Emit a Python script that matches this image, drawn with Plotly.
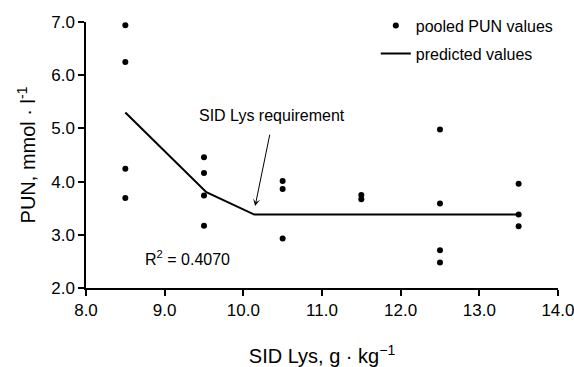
import plotly.graph_objects as go

# Observed pooled PUN values
lys_obs = [8.5, 8.5, 8.5, 8.5,
           9.5, 9.5, 9.5, 9.5,
           10.5, 10.5, 10.5,
           11.5, 11.5,
           12.5, 12.5, 12.5, 12.5,
           13.5, 13.5, 13.5]
pun_obs = [6.94, 6.25, 4.24, 3.69,
           4.46, 4.16, 3.74, 3.17,
           4.01, 3.86, 2.93,
           3.75, 3.67,
           4.98, 3.59, 2.71, 2.48,
           3.96, 3.38, 3.16]

# Predicted (broken-line) values
lys_pred = [8.5, 9.53, 10.14, 13.5]
pun_pred = [5.30, 3.80, 3.38, 3.38]

x_ticks = [8.0, 9.0, 10.0, 11.0, 12.0, 13.0, 14.0]
y_ticks = [2.0, 3.0, 4.0, 5.0, 6.0, 7.0]

FONT = "Liberation Sans, Arial, sans-serif"

fig = go.Figure()
fig.add_trace(go.Scatter(x=lys_obs, y=pun_obs, mode="markers",
                         marker=dict(color="black", size=6),
                         name="pooled PUN values", legendgroup="a"))
fig.add_trace(go.Scatter(x=lys_pred, y=pun_pred, mode="lines",
                         line=dict(color="black", width=2),
                         name="predicted values", legendgroup="b"))

fig.add_annotation(x=10.15, y=3.54, ax=10.34, ay=4.91, axref="x", ayref="y",
                   xref="x", yref="y", text="", showarrow=True,
                   arrowhead=3, arrowsize=1.2, arrowwidth=1, arrowcolor="black")
fig.add_annotation(x=10.36, y=5.25, xref="x", yref="y", text="SID Lys requirement",
                   showarrow=False, font=dict(size=16, color="black"))
fig.add_annotation(x=8.72, y=2.56, xref="x", yref="y", text="R<sup>2</sup> = 0.4070",
                   showarrow=False, xanchor="left", yanchor="middle",
                   font=dict(size=16, color="black"))

fig.update_layout(
    width=574, height=367,
    margin=dict(l=86, r=16, t=22, b=79, autoexpand=False),
    paper_bgcolor="white", plot_bgcolor="white",
    font=dict(family=FONT, size=17, color="black"),
    showlegend=True,
    legend=dict(x=0.614, y=1.05, xanchor="left", yanchor="top",
                bgcolor="rgba(0,0,0,0)", font=dict(size=16),
                itemsizing="trace", traceorder="grouped", tracegroupgap=4,
                itemwidth=30),
    xaxis=dict(range=[8, 14.0005], tickvals=x_ticks,
               ticktext=[f"{v:.1f}" for v in x_ticks],
               ticklabeloverflow="allow",
               showgrid=False, zeroline=False, showline=True, automargin=False,
               linecolor="black", linewidth=1.5,
               ticks="outside", ticklen=6, tickcolor="black", tickwidth=1.5,
               title=dict(text="SID Lys, g · kg<sup>−1</sup>", standoff=32)),
    yaxis=dict(range=[2, 7], tickvals=y_ticks,
               ticktext=[f"{v:.1f}" for v in y_ticks],
               showgrid=False, zeroline=False, showline=True, automargin=False,
               linecolor="black", linewidth=1.5,
               ticks="outside", ticklen=6, tickcolor="black", tickwidth=1.5,
               title=dict(text="PUN, mmol · l<sup>-1</sup>", standoff=10)),
)

fig.write_html(
    "out.html",
    config={"displayModeBar": False},
    post_script="document.body.style.margin='0';document.body.style.overflow='hidden';",
)
